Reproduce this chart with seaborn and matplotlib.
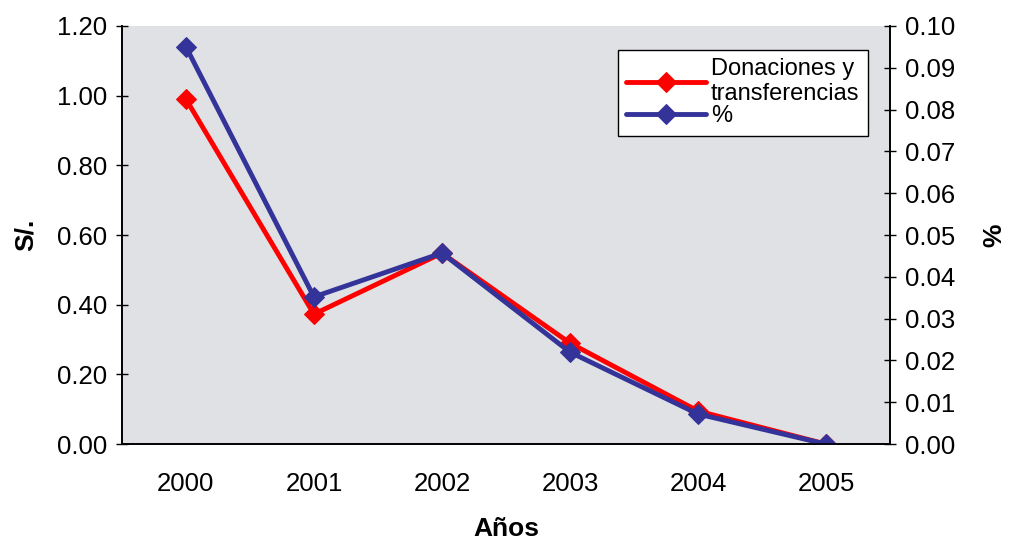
"""Donaciones y transferencias: S/. and % by year, two y axes."""

import numpy as np
import pandas as pd
import seaborn as sns
import matplotlib.pyplot as plt

years = ["2000", "2001", "2002", "2003", "2004", "2005"]
donaciones = [0.99, 0.373, 0.548, 0.29, 0.095, 0.0]
porcentaje = [0.095, 0.0352, 0.0457, 0.022, 0.0072, 0.0]

sns.set_style("white")
plt.rcParams["font.family"] = ["Liberation Sans", "DejaVu Sans"]
plt.rcParams["text.color"] = "black"
plt.rcParams["axes.labelcolor"] = "black"
plt.rcParams["xtick.color"] = "black"
plt.rcParams["ytick.color"] = "black"

df = pd.DataFrame({"x": range(len(years)), "don": donaciones, "pct": porcentaje})

fig = plt.figure(figsize=(10.16, 5.39), dpi=100)
ax = fig.add_axes([0.12, 0.176, 0.756, 0.776])
ax2 = ax.twinx()

# flat light grey stand-in for the marble fill
ax.set_facecolor("#dfe1e4")

sns.lineplot(data=df, x="x", y="don", ax=ax, color="#ff0000", lw=3.5,
             marker="D", markersize=10, markeredgecolor="#ff0000",
             label="Donaciones y\ntransferencias", legend=False)
sns.lineplot(data=df, x="x", y="pct", ax=ax2, color="#333399", lw=3.5,
             marker="D", markersize=10, markeredgecolor="#333399",
             label="%", legend=False)

ax.set_xlim(-0.5, len(years) - 0.5)
ax.set_ylim(0, 1.2)
ax2.set_ylim(0, 0.1)

# category labels at centres, tick marks on boundaries
ax.set_xticks(np.arange(-0.5, len(years)), minor=False)
ax.set_xticklabels([])
ax.set_xticks(range(len(years)), minor=True)
ax.set_xticklabels(years, minor=True, fontsize=18.5)
ax.tick_params(axis="x", which="major", direction="out", length=9, width=1)
ax.tick_params(axis="x", which="minor", length=0, pad=20)

yl = np.arange(0, 1.21, 0.2)
yr = np.arange(0, 0.101, 0.01)
ax.set_yticks(yl)
ax.set_yticklabels([f"{v:.2f}" for v in yl], fontsize=18.5)
ax2.set_yticks(yr)
ax2.set_yticklabels([f"{v:.2f}" for v in yr], fontsize=18.5)
ax.tick_params(axis="y", direction="inout", length=9, width=1, left=True, pad=6)
ax2.tick_params(axis="y", direction="inout", length=9, width=1, right=True, pad=6)

ax.set_xlabel("Años", fontsize=19, fontweight="bold", labelpad=15)
ax.set_ylabel("S/.", fontsize=19, fontweight="bold", labelpad=14)
ax2.set_ylabel("%", fontsize=19, fontweight="bold", labelpad=20)

for a in (ax, ax2):
    for s in a.spines.values():
        s.set_color("black")
        s.set_linewidth(1.2)
    a.spines["top"].set_visible(False)

h1, l1 = ax.get_legend_handles_labels()
h2, l2 = ax2.get_legend_handles_labels()
leg = ax2.legend(h1 + h2, l1 + l2, loc="upper right", bbox_to_anchor=(0.971, 0.943),
                 borderaxespad=0, fontsize=17, frameon=True, fancybox=False,
                 edgecolor="black", handlelength=3.4, labelspacing=0.0,
                 borderpad=0.35, handletextpad=0.2)
leg.get_frame().set_linewidth(1)
leg.get_frame().set_alpha(1)

fig.savefig("out.png", dpi=100)
